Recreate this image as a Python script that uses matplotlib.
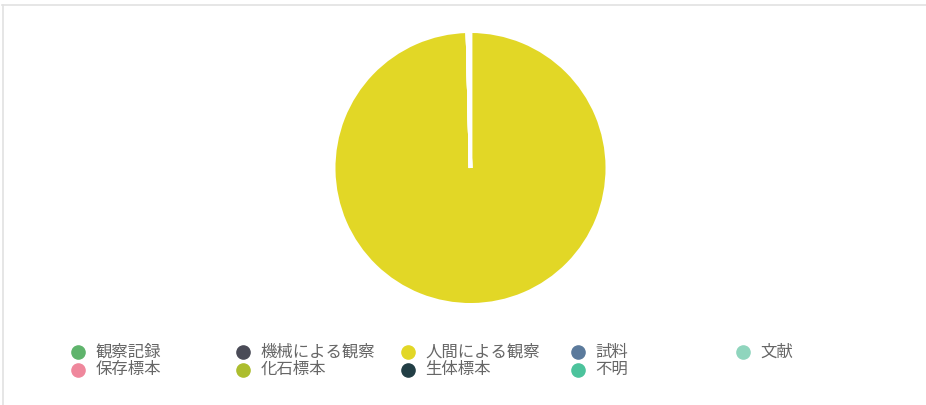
import matplotlib
matplotlib.use("Agg")
import matplotlib.pyplot as plt
from matplotlib.lines import Line2D

plt.rcParams['font.family'] = ['Noto Sans CJK JP', 'DejaVu Sans']

# data
labels = ["観察記録", "機械による観察", "人間による観察", "試料", "文献",
          "保存標本", "化石標本", "生体標本", "不明"]
values = [0, 0, 1650, 0, 0, 0, 0, 0, 6]
colors = ["#5fb46c", "#4a4b57", "#e2d726", "#5b7a9c", "#8fd5bd",
          "#ef879c", "#acbd2e", "#223e45", "#4cc39c"]

W, H = 926, 405
fig = plt.figure(figsize=(W / 100, H / 100), dpi=100)

# light frame (top and left edges)
fig.add_artist(Line2D([2 / W, 1], [1 - 5 / H, 1 - 5 / H], color="#e2e2e2", lw=1.2))
fig.add_artist(Line2D([2.5 / W, 2.5 / W], [0, 1 - 5 / H], color="#e2e2e2", lw=1.2))

# pie
cx, cy, r = 470.5, 168, 136.75
ax = fig.add_axes([(cx - r) / W, (H - cy - r) / H, 2 * r / W, 2 * r / H])
ax.pie(values, colors=colors, startangle=90, counterclock=False, radius=1,
       wedgeprops=dict(edgecolor="white", linewidth=2.5))
ax.set_xlim(-1, 1)
ax.set_ylim(-1, 1)
ax.axis("off")

# legend, laid out row by row in 5 columns
col_x = [78, 243, 408, 578, 743]
row_y = [352, 369.5]
for i, (lab, col) in enumerate(zip(labels, colors)):
    x = col_x[i % 5]
    y = row_y[i // 5]
    fig.add_artist(Line2D([x / W], [1 - y / H], marker="o", markersize=9.5,
                          color=col, linestyle="none"))
    fig.text((x + 17.5) / W, 1 - y / H, lab, fontsize=11.8, color="#666666",
             va="center", ha="left")

fig.savefig("out.png", dpi=100)
